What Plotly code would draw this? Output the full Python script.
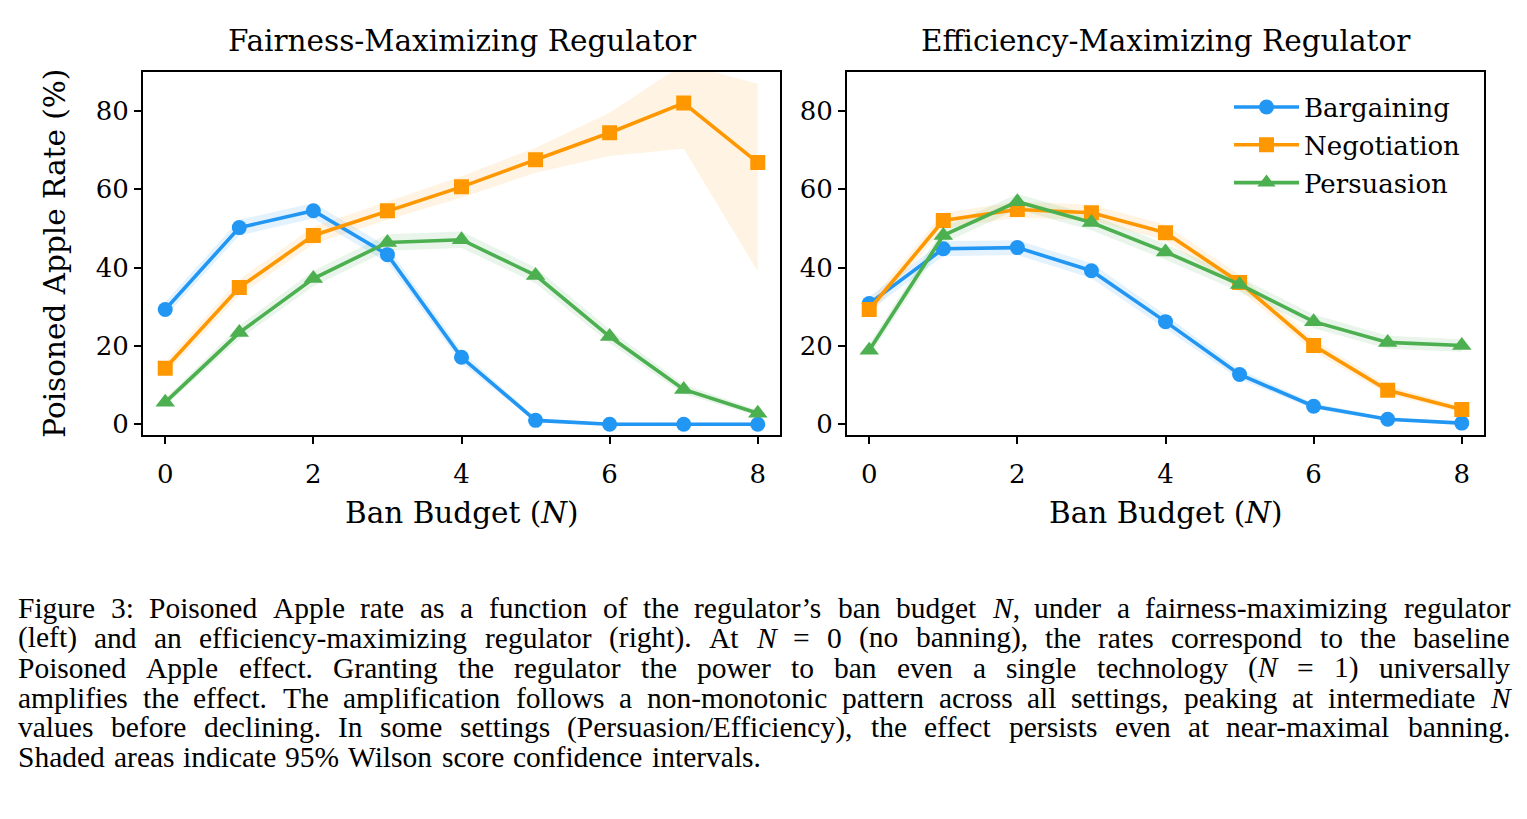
import plotly.graph_objects as go

W, H = 1527, 819

ban_budget = [0, 1, 2, 3, 4, 5, 6, 7, 8]
x_ticks = [0, 2, 4, 6, 8]
y_ticks = [0, 20, 40, 60, 80]
series_names = ["Bargaining", "Negotiation", "Persuasion"]
panel_titles = ["Fairness-Maximizing Regulator", "Efficiency-Maximizing Regulator"]

# Fairness-maximizing regulator (left)
fair_bargaining = [29.3, 50.2, 54.5, 43.3, 17.1, 1.0, 0.0, 0.0, 0.0]
fair_bargaining_lo = [27.5, 48.2, 52.5, 41.3, 15.6, 0.6, 0.0, 0.0, 0.0]
fair_bargaining_hi = [31.2, 52.2, 56.5, 45.4, 18.7, 1.6, 0.4, 0.4, 0.5]
fair_negotiation = [14.3, 34.9, 48.2, 54.5, 60.6, 67.5, 74.4, 82.0, 66.8]
fair_negotiation_lo = [12.8, 32.9, 46.0, 52.2, 57.8, 64.2, 68.5, 70.3, 39.0]
fair_negotiation_hi = [15.9, 37.0, 50.4, 56.8, 63.3, 70.6, 79.5, 92.0, 86.9]
fair_persuasion = [5.6, 23.4, 37.2, 46.4, 47.1, 38.0, 22.4, 8.9, 2.8]
fair_persuasion_lo = [4.7, 21.7, 35.2, 44.3, 45.0, 36.0, 20.7, 7.7, 2.1]
fair_persuasion_hi = [6.6, 25.2, 39.2, 48.5, 49.2, 40.0, 24.2, 10.2, 3.6]

# Efficiency-maximizing regulator (right)
eff_bargaining = [30.8, 44.8, 45.1, 39.2, 26.2, 12.7, 4.6, 1.3, 0.3]
eff_bargaining_lo = [29.0, 42.9, 43.2, 37.3, 24.5, 11.5, 3.9, 0.9, 0.1]
eff_bargaining_hi = [32.6, 46.7, 47.0, 41.1, 27.9, 14.0, 5.4, 1.8, 0.6]
eff_negotiation = [29.3, 52.0, 54.8, 54.0, 48.9, 36.2, 20.1, 8.7, 3.8]
eff_negotiation_lo = [27.5, 50.0, 52.8, 52.0, 46.9, 34.3, 18.6, 7.6, 3.1]
eff_negotiation_hi = [31.1, 54.0, 56.8, 56.0, 50.9, 38.1, 21.7, 9.9, 4.6]
eff_persuasion = [18.9, 48.2, 56.8, 51.5, 44.0, 35.7, 26.2, 20.9, 20.1]
eff_persuasion_lo = [17.3, 46.2, 54.8, 49.5, 42.0, 33.8, 24.5, 19.3, 18.5]
eff_persuasion_hi = [20.5, 50.2, 58.8, 53.5, 46.0, 37.6, 28.0, 22.6, 21.7]

caption_lines = [
    "Figure 3: Poisoned Apple rate as a function of the regulator\u2019s ban budget <i>N</i>, under a fairness-maximizing regulator",
    "(left) and an efficiency-maximizing regulator (right). At <i>N</i> = 0 (no banning), the rates correspond to the baseline",
    "Poisoned Apple effect.  Granting the regulator the power to ban even a single technology (<i>N</i> = 1) universally",
    "amplifies the effect. The amplification follows a non-monotonic pattern across all settings, peaking at intermediate <i>N</i>",
    "values before declining. In some settings (Persuasion/Efficiency), the effect persists even at near-maximal banning.",
    "Shaded areas indicate 95% Wilson score confidence intervals.",
]

colors = ["#2196F3", "#FF9800", "#4CAF50"]
fills = ["rgba(33,150,243,0.12)", "rgba(255,152,0,0.11)", "rgba(76,175,80,0.12)"]
symbols = ["circle", "square", "triangle-up"]
msizes = [15, 15, 17]

panels = [
    ("x", "y", [(fair_bargaining, fair_bargaining_lo, fair_bargaining_hi),
                (fair_negotiation, fair_negotiation_lo, fair_negotiation_hi),
                (fair_persuasion, fair_persuasion_lo, fair_persuasion_hi)]),
    ("x2", "y2", [(eff_bargaining, eff_bargaining_lo, eff_bargaining_hi),
                  (eff_negotiation, eff_negotiation_lo, eff_negotiation_hi),
                  (eff_persuasion, eff_persuasion_lo, eff_persuasion_hi)]),
]

fig = go.Figure()
for pi, (xa, ya, data) in enumerate(panels):
    for si, (vals, lo, hi) in enumerate(data):
        fig.add_trace(go.Scatter(
            x=ban_budget + ban_budget[::-1], y=hi + lo[::-1],
            fill="toself", fillcolor=fills[si], line=dict(width=0),
            mode="lines", hoverinfo="skip", showlegend=False,
            xaxis=xa, yaxis=ya))
    for si, (vals, lo, hi) in enumerate(data):
        fig.add_trace(go.Scatter(
            x=ban_budget, y=vals, mode="lines+markers", name=series_names[si],
            line=dict(color=colors[si], width=3.6),
            marker=dict(symbol=symbols[si], size=msizes[si], color=colors[si]),
            showlegend=(pi == 1), legendgroup=series_names[si],
            xaxis=xa, yaxis=ya))

FONT = "DejaVu Serif"
TICK_FS = 26
LABEL_FS = 29.5
axis_common = dict(
    showline=True, linecolor="black", linewidth=2, mirror=True,
    ticks="outside", ticklen=7, tickwidth=1.8, tickcolor="black",
    showgrid=False, zeroline=False,
    tickfont=dict(family=FONT, size=TICK_FS, color="black"),
)

def px(v):
    return v / W

def py(v):
    return 1 - v / H

fig.update_layout(
    width=W, height=H,
    margin=dict(l=0, r=0, t=0, b=0),
    paper_bgcolor="white", plot_bgcolor="white",
    xaxis=dict(domain=[px(143), px(780)], range=[-0.3, 8.3], tickvals=x_ticks, anchor="y",
               ticklabelstandoff=8, **axis_common),
    yaxis=dict(domain=[py(437), py(72)], range=[-2.7, 90], tickvals=y_ticks, anchor="x", **axis_common),
    xaxis2=dict(domain=[px(847), px(1484)], range=[-0.3, 8.3], tickvals=x_ticks, anchor="y2",
                ticklabelstandoff=8, **axis_common),
    yaxis2=dict(domain=[py(437), py(72)], range=[-2.7, 90], tickvals=y_ticks, anchor="x2", **axis_common),
    legend=dict(
        x=px(1229), y=py(84), xanchor="left", yanchor="top",
        font=dict(family=FONT, size=TICK_FS, color="black"),
        bgcolor="rgba(255,255,255,0)", borderwidth=0,
        traceorder="grouped", tracegroupgap=1, itemwidth=65,
    ),
    showlegend=True,
)

ann = []
for cx, t in zip([462, 1166], panel_titles):
    ann.append(dict(text=t, x=px(cx), y=py(41), xref="paper", yref="paper",
                    xanchor="center", yanchor="middle", showarrow=False,
                    font=dict(family=FONT, size=LABEL_FS, color="black")))
    ann.append(dict(text="Ban Budget (<i>N</i>)", x=px(cx), y=py(516), xref="paper", yref="paper",
                    xanchor="center", yanchor="middle", showarrow=False,
                    font=dict(family=FONT, size=LABEL_FS, color="black")))
ann.append(dict(text="Poisoned Apple Rate (%)", x=px(55), y=py(255), xref="paper", yref="paper",
                xanchor="center", yanchor="middle", showarrow=False, textangle=-90,
                font=dict(family=FONT, size=LABEL_FS, color="black")))

# ---- caption, justified word by word using Times (Liberation Serif) metrics ----
TW = {' ': 250, '%': 833, '\u2019': 333, "'": 333, '(': 333, ')': 333, ',': 250, '-': 333, '.': 250,
      '/': 278, ':': 278, '=': 564,
      'A': 722, 'B': 667, 'C': 667, 'D': 722, 'E': 611, 'F': 556, 'G': 722, 'H': 722, 'I': 333,
      'J': 389, 'K': 722, 'L': 611, 'M': 889, 'N': 722, 'O': 722, 'P': 556, 'Q': 722, 'R': 667,
      'S': 556, 'T': 611, 'U': 722, 'V': 722, 'W': 944, 'X': 722, 'Y': 722, 'Z': 611,
      'a': 444, 'b': 500, 'c': 444, 'd': 500, 'e': 444, 'f': 333, 'g': 500, 'h': 500, 'i': 278,
      'j': 278, 'k': 500, 'l': 278, 'm': 778, 'n': 500, 'o': 500, 'p': 500, 'q': 500, 'r': 333,
      's': 389, 't': 278, 'u': 500, 'v': 500, 'w': 722, 'x': 500, 'y': 500, 'z': 444}
for d in "0123456789":
    TW[d] = 500

CAP_FS = 29.5
CAP_L, CAP_R = 17, 1509

def word_width(w):
    tot = 0
    s = w.replace("<i>N</i>", "\x01")
    for ch in s:
        if ch == "\x01":
            tot += 667
        else:
            tot += TW.get(ch, 500)
    return tot / 1000 * CAP_FS

for li, line in enumerate(caption_lines):
    words = line.split()
    widths = [word_width(w) for w in words]
    last = li == len(caption_lines) - 1
    if last or len(words) < 2:
        gap = 0.25 * CAP_FS * 1.2
    else:
        gap = (CAP_R - CAP_L - sum(widths)) / (len(words) - 1)
    xcur = CAP_L
    ycen = 611 + li * 30.0
    for w, wd in zip(words, widths):
        ann.append(dict(text=w, x=px(xcur), y=py(ycen), xref="paper", yref="paper",
                        xanchor="left", yanchor="middle", showarrow=False, borderpad=0,
                        font=dict(family="Liberation Serif", size=CAP_FS, color="black")))
        xcur += wd + gap

fig.update_layout(annotations=ann)
fig.write_html("out.html")
